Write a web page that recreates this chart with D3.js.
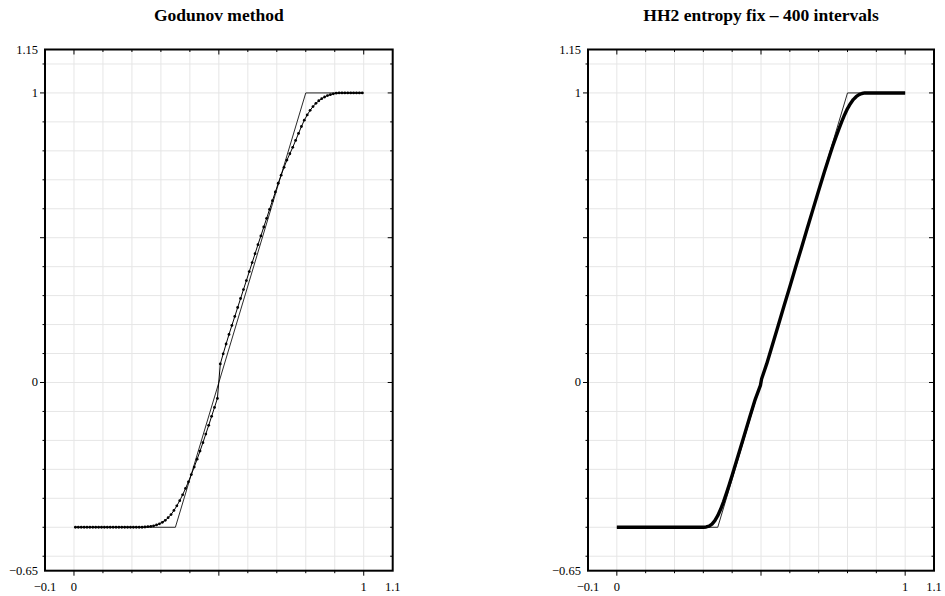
<!DOCTYPE html>
<html>
<head>
<meta charset="utf-8">
<script src="https://cdn.jsdelivr.net/npm/d3@7"></script>
<style>
  body { margin: 0; background: #fff; }
  svg { display: block; }
  text { font-family: "Liberation Serif", "Times New Roman", serif; }
</style>
</head>
<body>
<div id="chart"></div>
<script>
// axis ranges and labelled ticks
var xDomain = [-0.1, 1.1];
var yDomain = [-0.65, 1.15];
var xTickLabels = [-0.1, 0, 1, 1.1];
var yTickLabels = [-0.65, 0, 1, 1.15];
var gridValuesX = [0, 0.1, 0.2, 0.3, 0.4, 0.5, 0.6, 0.7, 0.8, 0.9, 1.0];
var gridValuesY = [-0.6, -0.5, -0.4, -0.3, -0.2, -0.1, 0, 0.1, 0.2, 0.3, 0.4, 0.5, 0.6, 0.7, 0.8, 0.9, 1.0, 1.1];
var majorTicks = [0, 0.5, 1];

var titles = ["Godunov method", "HH2 entropy fix \u2013 400 intervals"];

// exact solution (thin line)
var exactX = [0, 0.35, 0.8, 1];
var exactU = [-0.5, -0.5, 1, 1];

// Godunov, 100 cells (dots)
var godunovX = [0.005, 0.015, 0.025, 0.035, 0.045, 0.055, 0.065, 0.075, 0.085, 0.095,
  0.105, 0.115, 0.125, 0.135, 0.145, 0.155, 0.165, 0.175, 0.185, 0.195,
  0.205, 0.215, 0.225, 0.235, 0.245, 0.255, 0.265, 0.275, 0.285, 0.295,
  0.305, 0.315, 0.325, 0.335, 0.345, 0.355, 0.365, 0.375, 0.385, 0.395,
  0.405, 0.415, 0.425, 0.435, 0.445, 0.455, 0.465, 0.475, 0.485, 0.495,
  0.505, 0.515, 0.525, 0.535, 0.545, 0.555, 0.565, 0.575, 0.585, 0.595,
  0.605, 0.615, 0.625, 0.635, 0.645, 0.655, 0.665, 0.675, 0.685, 0.695,
  0.705, 0.715, 0.725, 0.735, 0.745, 0.755, 0.765, 0.775, 0.785, 0.795,
  0.805, 0.815, 0.825, 0.835, 0.845, 0.855, 0.865, 0.875, 0.885, 0.895,
  0.905, 0.915, 0.925, 0.935, 0.945, 0.955, 0.965, 0.975, 0.985, 0.995];
var godunovU = [-0.5, -0.5, -0.5, -0.5, -0.5, -0.5, -0.5, -0.5, -0.5, -0.5,
  -0.5, -0.5, -0.5, -0.5, -0.5, -0.5, -0.5, -0.5, -0.5, -0.5,
  -0.5, -0.5, -0.5, -0.5, -0.499, -0.498, -0.497, -0.495, -0.492, -0.488,
  -0.483, -0.476, -0.467, -0.456, -0.442, -0.426, -0.408, -0.388, -0.366, -0.343,
  -0.318, -0.292, -0.265, -0.237, -0.208, -0.178, -0.148, -0.117, -0.086, -0.055,
  0.064, 0.099, 0.133, 0.166, 0.197, 0.228, 0.259, 0.290, 0.321, 0.352,
  0.383, 0.414, 0.445, 0.476, 0.506, 0.537, 0.567, 0.598, 0.628, 0.658,
  0.688, 0.716, 0.743, 0.768, 0.790, 0.812, 0.836, 0.860, 0.884, 0.906,
  0.924, 0.940, 0.953, 0.964, 0.973, 0.980, 0.986, 0.991, 0.994, 0.997,
  0.999, 1, 1, 1, 1, 1, 1, 1, 1, 1];

// HH2 entropy fix, 400 cells - read as a dense thick curve
var hh2X = [0, 0.30, 0.31, 0.32, 0.33, 0.34, 0.35, 0.36, 0.37, 0.38, 0.39, 0.40,
  0.42, 0.44, 0.46, 0.48, 0.498, 0.502, 0.52, 0.54, 0.56, 0.58, 0.60, 0.62, 0.64,
  0.66, 0.68, 0.70, 0.72, 0.74, 0.75, 0.76, 0.77, 0.78, 0.79, 0.80, 0.81, 0.82,
  0.83, 0.84, 0.85, 0.86, 1.0];
var hh2U = [-0.5, -0.5, -0.499, -0.496, -0.489, -0.477, -0.460, -0.438, -0.412, -0.383, -0.352, -0.320,
  -0.255, -0.189, -0.123, -0.058, -0.010, 0.012, 0.065, 0.131, 0.198, 0.265, 0.331, 0.398, 0.464,
  0.531, 0.597, 0.663, 0.728, 0.790, 0.820, 0.848, 0.875, 0.901, 0.925, 0.946, 0.963, 0.977,
  0.987, 0.994, 0.998, 1.0, 1.0];

// panel placement
var width = 945, height = 596;
var plotTop = 49.5, plotBottom = 570.7;
var panels = [
  { left: 45, right: 392.7 },
  { left: 588, right: 934 }
];

var svg = d3.select("#chart")
  .append("svg")
  .attr("width", width)
  .attr("height", height);

function fmt(v) {
  return String(v).replace("-", "\u2212");
}

function drawPanel(p, idx) {
  var x = d3.scaleLinear().domain(xDomain).range([p.left, p.right]);
  var y = d3.scaleLinear().domain(yDomain).range([plotBottom, plotTop]);
  var g = svg.append("g");

  // grid
  g.selectAll(".gx").data(gridValuesX).enter().append("line")
    .attr("x1", d => x(d)).attr("x2", d => x(d))
    .attr("y1", plotTop).attr("y2", plotBottom)
    .attr("stroke", "#e6e6e6").attr("stroke-width", 1);
  g.selectAll(".gy").data(gridValuesY).enter().append("line")
    .attr("y1", d => y(d)).attr("y2", d => y(d))
    .attr("x1", p.left).attr("x2", p.right)
    .attr("stroke", "#e6e6e6").attr("stroke-width", 1);

  // ticks on all four sides (major ones longer)
  function tickLen(d, major, minor) {
    return majorTicks.some(m => Math.abs(m - d) < 1e-9) ? major : minor;
  }
  gridValuesX.forEach(function (d) {
    var l = tickLen(d, 5, 2.5);
    g.append("line").attr("x1", x(d)).attr("x2", x(d))
      .attr("y1", plotBottom).attr("y2", plotBottom + l)
      .attr("stroke", "#000").attr("stroke-width", 1);
    g.append("line").attr("x1", x(d)).attr("x2", x(d))
      .attr("y1", plotTop).attr("y2", plotTop + l)
      .attr("stroke", "#000").attr("stroke-width", 1);
  });
  gridValuesY.forEach(function (d) {
    var l = tickLen(d, 5, 2.5);
    g.append("line").attr("y1", y(d)).attr("y2", y(d))
      .attr("x1", p.left - l).attr("x2", p.left)
      .attr("stroke", "#000").attr("stroke-width", 1);
    g.append("line").attr("y1", y(d)).attr("y2", y(d))
      .attr("x1", p.right - l).attr("x2", p.right)
      .attr("stroke", "#000").attr("stroke-width", 1);
  });

  // tick labels
  g.selectAll(".xl").data(xTickLabels).enter().append("text")
    .attr("x", d => x(d)).attr("y", 591)
    .attr("text-anchor", "middle")
    .attr("font-size", 12.5)
    .text(fmt);
  g.selectAll(".yl").data(yTickLabels).enter().append("text")
    .attr("x", p.left - 7).attr("y", d => y(d) + 4)
    .attr("text-anchor", "end")
    .attr("font-size", 12.5)
    .text(fmt);

  // exact solution
  var exactPts = exactX.map((v, i) => [v, exactU[i]]);
  var line = d3.line().x(d => x(d[0])).y(d => y(d[1]));
  g.append("path").datum(exactPts)
    .attr("d", line)
    .attr("fill", "none")
    .attr("stroke", "#111")
    .attr("stroke-width", 0.9);

  if (idx === 0) {
    var pts = godunovX.map((v, i) => [v, godunovU[i]]);
    g.append("path").datum(pts)
      .attr("d", line)
      .attr("fill", "none")
      .attr("stroke", "#000")
      .attr("stroke-width", 1);
    g.selectAll(".dot").data(pts).enter().append("circle")
      .attr("cx", d => x(d[0])).attr("cy", d => y(d[1]))
      .attr("r", 1.4)
      .attr("fill", "#000");
  } else {
    var pts2 = hh2X.map((v, i) => [v, hh2U[i]]);
    g.append("path").datum(pts2)
      .attr("d", line)
      .attr("fill", "none")
      .attr("stroke", "#000")
      .attr("stroke-width", 3.4)
      .attr("stroke-linejoin", "round");
  }

  // frame
  g.append("rect")
    .attr("x", p.left).attr("y", plotTop)
    .attr("width", p.right - p.left).attr("height", plotBottom - plotTop)
    .attr("fill", "none")
    .attr("stroke", "#000")
    .attr("stroke-width", 2);

  // title
  svg.append("text")
    .attr("x", (p.left + p.right) / 2)
    .attr("y", 21)
    .attr("text-anchor", "middle")
    .attr("font-size", 17.5)
    .attr("font-weight", "bold")
    .text(titles[idx]);
}

panels.forEach(drawPanel);
</script>
</body>
</html>
